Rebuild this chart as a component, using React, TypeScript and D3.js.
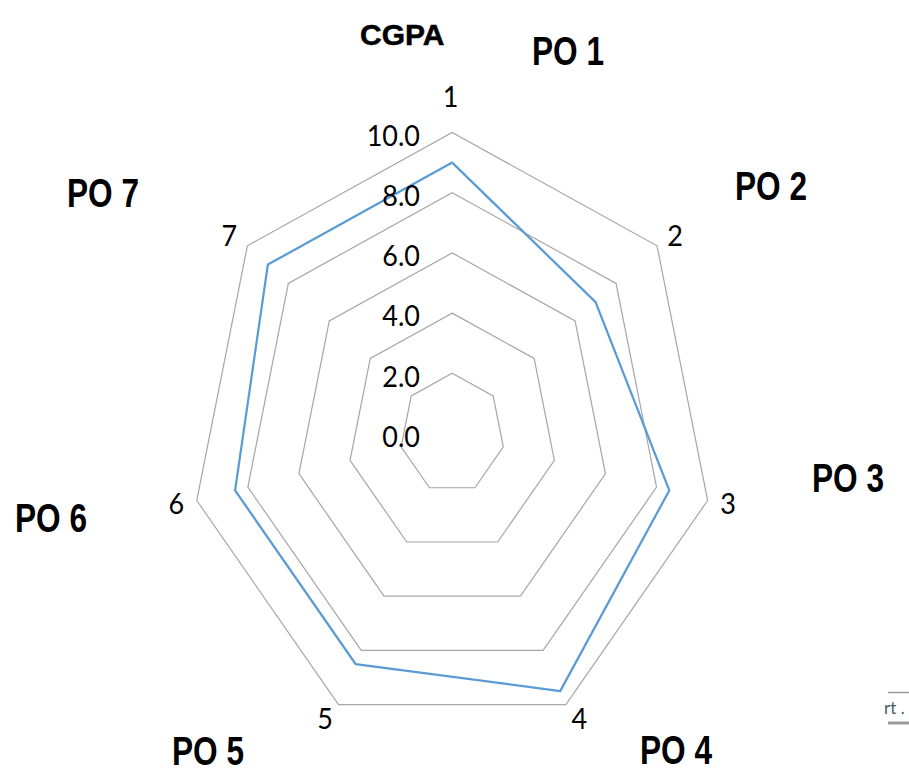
import React from "react";
import * as d3 from "d3";

const categories = ["1", "2", "3", "4", "5", "6", "7"];
const values = [9.0, 7.0, 8.5, 9.5, 8.5, 8.5, 9.0];
const ringTicks = [0, 2, 4, 6, 8, 10];
const poLabels = ["PO 1", "PO 2", "PO 3", "PO 4", "PO 5", "PO 6", "PO 7"];
const seriesName = "CGPA";

const W = 909;
const H = 770;
const cx = 452.2;
const cy = 433.5;

// horizontal and vertical radial scales (the picture is squeezed horizontally)
const rx = d3.scaleLinear().domain([0, 10]).range([0, 262]);
const ry = d3.scaleLinear().domain([0, 10]).range([0, 301]);
const angle = d3
  .scaleLinear()
  .domain([0, categories.length])
  .range([0, 2 * Math.PI]);

function pt(i: number, v: number): [number, number] {
  const a = angle(i);
  return [cx + rx(v) * Math.sin(a), cy - ry(v) * Math.cos(a)];
}

const closedLine = d3
  .line<[number, number]>()
  .x((d) => d[0])
  .y((d) => d[1])
  .curve(d3.curveLinearClosed);

const fmt = d3.format(".1f");

// positions of the PO labels (left x, baseline y)
const poPos: [number, number][] = [
  [532, 65],
  [735, 200],
  [812, 492],
  [640, 764],
  [172, 765],
  [15, 531.5],
  [67, 206.5],
];

export default function App() {
  const numFont = "Lato, 'Open Sans', sans-serif";
  const boldFont = "'Liberation Sans', Arial, sans-serif";
  return (
    <svg
      width={W}
      height={H}
      style={{ position: "absolute", left: 0, top: 0, display: "block", background: "#fff" }}
    >
      <rect x={0} y={0} width={W} height={H} fill="#fff" />
      {/* grid rings */}
      {ringTicks
        .filter((t) => t > 0)
        .map((t) => (
          <path
            key={t}
            d={closedLine(categories.map((_, i) => pt(i, t))) || ""}
            fill="none"
            stroke="#a6a6a6"
            strokeWidth={1.2}
          />
        ))}
      {/* data series */}
      <path
        d={closedLine(values.map((v, i) => pt(i, v))) || ""}
        fill="none"
        stroke="#5b9bd5"
        strokeWidth={2.25}
        strokeLinejoin="round"
      />
      {/* value axis labels */}
      {ringTicks.map((t) => (
        <text
          key={"t" + t}
          transform={`translate(420,${cy - ry(t) + 13.3}) scale(0.93,1)`}
          textAnchor="end"
          fontFamily={numFont}
          fontSize={29}
          fill="#000"
        >
          {fmt(t)}
        </text>
      ))}
      {/* category labels */}
      {categories.map((c, i) => {
        const a = angle(i);
        const [vx, vy] = pt(i, 10);
        const s = Math.sin(a);
        const co = Math.cos(a);
        let lx = vx + s * 13;
        let ly = vy - co * 16;
        let anchor = "middle";
        if (s > 0.1) anchor = "start";
        else if (s < -0.1) anchor = "end";
        if (i === 0) {
          lx = vx - 1.5;
          ly = vy - 36;
        }
        return (
          <text
            key={"c" + c}
            transform={`translate(${lx},${ly + 10}) scale(0.93,1)`}
            textAnchor={anchor}
            fontFamily={numFont}
            fontSize={29}
            fill="#000"
          >
            {c}
          </text>
        );
      })}
      {/* series name */}
      <text
        x={360}
        y={45}
        fontFamily={boldFont}
        fontWeight="bold"
        fontSize={30}
        fill="#000"
        stroke="#000"
        strokeWidth={0.5}
      >
        {seriesName}
      </text>
      {/* PO labels */}
      {poLabels.map((p, i) => (
        <text
          key={p}
          transform={`translate(${poPos[i][0]},${poPos[i][1]}) scale(0.79,1)`}
          fontFamily={boldFont}
          fontWeight="bold"
          fontSize={40}
          fill="#000"
        >
          {p}
        </text>
      ))}
      {/* clipped tooltip fragment at bottom right */}
      <line x1={888} x2={909} y1={692.5} y2={692.5} stroke="#9a9a9a" strokeWidth={1.5} />
      <text x={884} y={714} fontFamily={numFont} fontSize={17} fill="#4a5a6a">
        rt .
      </text>
      <line x1={888} x2={909} y1={723} y2={723} stroke="#9a9a9a" strokeWidth={3} />
    </svg>
  );
}
